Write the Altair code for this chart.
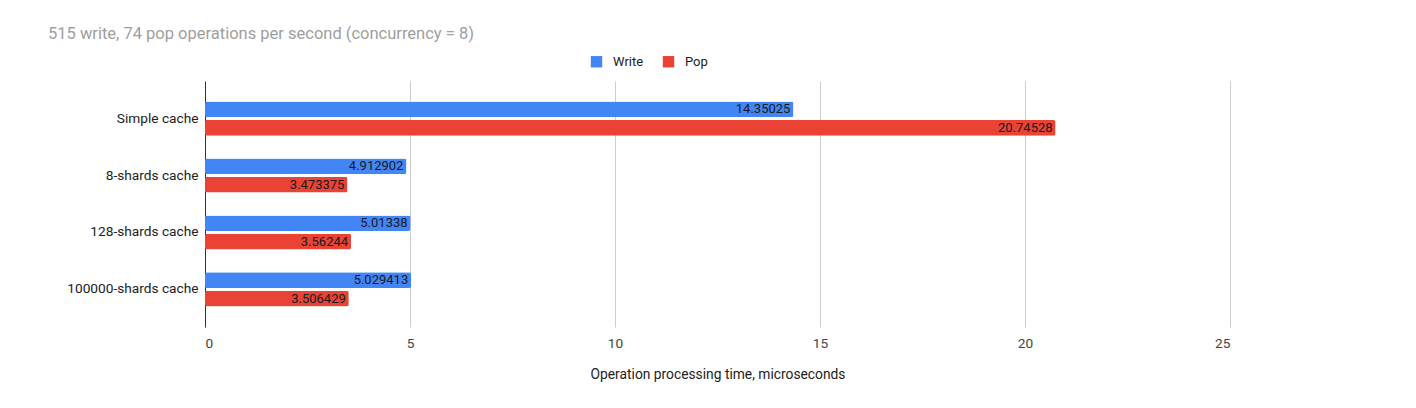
import altair as alt
import pandas as pd

categories = ["Simple cache", "8-shards cache", "128-shards cache", "100000-shards cache"]
series = ["Write", "Pop"]
write_values = [14.35025, 4.912902, 5.01338, 5.029413]
pop_values = [20.74528, 3.473375, 3.56244, 3.506429]
colors = ["#4285F4", "#EA4335"]
x_ticks = [0, 5, 10, 15, 20, 25]

rows = []
for c, w, p in zip(categories, write_values, pop_values):
    rows.append({"category": c, "series": "Write", "value": w, "label": str(w)})
    rows.append({"category": c, "series": "Pop", "value": p, "label": str(p)})
df = pd.DataFrame(rows)

FONT = "Roboto"

y_enc = alt.Y("category:N", sort=categories, title=None,
              scale=alt.Scale(paddingInner=0.4, paddingOuter=0.36),
              axis=alt.Axis(domain=True, domainColor="#333333", domainWidth=1,
                            ticks=False, grid=False, labelPadding=7,
                            labelFontSize=13.7, labelColor="#222222", labelFont=FONT,
                            labelLimit=300))
yoff_enc = alt.YOffset("series:N", sort=series,
                       scale=alt.Scale(domain=series, paddingInner=0.15, paddingOuter=0))
x_enc = alt.X("value:Q", title="Operation processing time, microseconds",
              scale=alt.Scale(domain=[0, 25], nice=False, zero=True),
              axis=alt.Axis(values=x_ticks, grid=True, gridColor="#cccccc",
                            domain=False, ticks=False, labelPadding=9,
                            labelFontSize=13.7, labelColor="#444444", labelFont=FONT,
                            titleFontSize=13.8, titleFontWeight="normal",
                            titleColor="#222222", titleFont=FONT, titlePadding=18))

bars = alt.Chart(df).mark_bar(cornerRadius=2).encode(
    y=y_enc,
    yOffset=yoff_enc,
    x=x_enc,
    color=alt.Color("series:N", sort=series,
                    scale=alt.Scale(domain=series, range=colors),
                    legend=alt.Legend(title=None, orient="none", direction="horizontal",
                                      legendX=385, legendY=-26,
                                      symbolType="square", symbolSize=130,
                                      symbolStrokeWidth=0, symbolOpacity=1,
                                      labelFontSize=13, labelColor="#222222",
                                      labelFont=FONT, columnPadding=18,
                                      symbolOffset=0, labelOffset=10)),
)

labels = alt.Chart(df).mark_text(align="right", baseline="middle", dx=-3,
                                 fontSize=13, font=FONT, color="#1a1a1a").encode(
    y=alt.Y("category:N", sort=categories),
    yOffset=alt.YOffset("series:N", sort=series),
    x=alt.X("value:Q"),
    text="label:N",
)

chart = alt.layer(bars, labels).properties(
    width=1025,
    height=246,
    title=alt.TitleParams("515 write, 74 pop operations per second (concurrency = 8)",
                          anchor="start", frame="group", dx=-157, offset=13,
                          fontSize=16.5, font=FONT, fontWeight="normal", color="#9e9e9e"),
    autosize=alt.AutoSizeParams(type="none"),
    padding={"left": 197, "top": 73, "right": 178, "bottom": 73},
).configure_view(stroke=None)

chart.save("out.html", embed_options={"renderer": "svg", "actions": False})
